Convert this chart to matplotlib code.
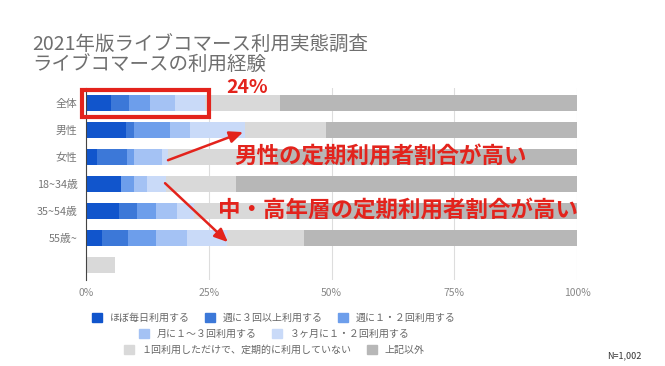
import matplotlib.pyplot as plt
from matplotlib.patches import Rectangle, Patch

plt.rcParams['font.family'] = ['Noto Sans CJK JP', 'DejaVu Sans']

# data (percent)
categories = ['全体', '男性', '女性', '18~34歳', '35~54歳', '55歳~', '']
series_names = ['ほぼ毎日利用する', '週に３回以上利用する', '週に１・２回利用する',
                '月に１〜３回利用する', '３ヶ月に１・２回利用する',
                '１回利用しただけで、定期的に利用していない', '上記以外']
daily = [5.1, 8.1, 2.3, 7.1, 6.8, 3.2, 0]
weekly3 = [3.7, 1.6, 6.0, 0.0, 3.6, 5.4, 0]
weekly12 = [4.3, 7.4, 1.4, 2.6, 3.8, 5.6, 0]
monthly = [5.0, 4.1, 5.7, 2.7, 4.3, 6.3, 0]
quarterly = [6.2, 11.2, 1.4, 3.9, 3.4, 8.2, 0]
once = [15.2, 16.5, 21.7, 14.2, 19.1, 15.7, 5.9]
other = [60.5, 51.1, 61.5, 69.5, 59.0, 55.6, 0]
xticks = [0, 25, 50, 75, 100]
xticklabels = ['0%', '25%', '50%', '75%', '100%']

colors = ['#1155cc', '#3c78d8', '#6d9eeb', '#a4c2f4', '#c9daf8', '#d9d9d9', '#b7b7b7']
red = '#e3231c'

fig = plt.figure(figsize=(6.65, 3.66), dpi=100)
ax = fig.add_axes([86 / 665, 1 - 280 / 366, 491 / 665, 192 / 366])

series = [daily, weekly3, weekly12, monthly, quarterly, once, other]
ypos = list(range(len(categories)))
left = [0] * len(categories)
for vals, c in zip(series, colors):
    ax.barh(ypos, vals, left=left, height=0.6, color=c, zorder=2)
    left = [l + v for l, v in zip(left, vals)]

ax.set_xlim(0, 100)
ax.set_ylim(6.55, -0.55)
ax.set_xticks(xticks)
ax.set_xticklabels(xticklabels, color='#888888', fontsize=7.5)
ax.set_yticks(ypos)
ax.set_yticklabels(categories, color='#777777', fontsize=7.8)
ax.tick_params(axis='both', length=0, pad=6)
ax.grid(axis='x', color='#dddddd', linewidth=0.8, zorder=0)
for s in ['top', 'right', 'bottom']:
    ax.spines[s].set_visible(False)
ax.spines['left'].set_color('#444444')
ax.spines['left'].set_linewidth(0.8)

# title
fig.text(32 / 665, 1 - 45 / 366, '2021年版ライブコマース利用実態調査', fontsize=14,
         color='#6f6f6f', va='center', ha='left')
fig.text(32 / 665, 1 - 64 / 366, 'ライブコマースの利用経験', fontsize=14,
         color='#6f6f6f', va='center', ha='left')

# highlight box around the regular users of 全体
ax.add_patch(Rectangle((-0.8, -0.48), 25.9, 1.0, fill=False, edgecolor=red,
                       linewidth=3, clip_on=False, zorder=5))
ax.text(32.8, -0.58, '24%', color=red, fontsize=14, fontweight='bold',
        ha='center', va='center', zorder=6)

# comments
ax.text(30.3, 2.0, '男性の定期利用者割合が高い', color=red, fontsize=16.2,
        fontweight='bold', ha='left', va='center', zorder=6)
ax.text(26.9, 4.0, '中・高年層の定期利用者割合が高い', color=red, fontsize=16.2,
        fontweight='bold', ha='left', va='center', zorder=6)
arrow = dict(arrowstyle='-|>,head_length=0.8,head_width=0.35', color=red, lw=1.8,
             shrinkA=0, shrinkB=0)
ax.annotate('', xy=(32.0, 1.08), xytext=(16.7, 2.12), arrowprops=arrow, zorder=6)
ax.annotate('', xy=(28.9, 5.15), xytext=(16.1, 2.97), arrowprops=arrow, zorder=6)

# legend, three centered rows
rows = [[0, 1, 2], [3, 4], [5, 6]]
row_y = [318, 334, 350]
for r, yy in zip(rows, row_y):
    handles = [Patch(color=colors[i]) for i in r]
    labels = [series_names[i] for i in r]
    fig.legend(handles, labels, loc='center', bbox_to_anchor=(274 / 665, 1 - yy / 366),
               ncol=len(r), frameon=False, fontsize=7.2, handlelength=1.0,
               handleheight=1.0, handletextpad=0.8, columnspacing=1.5,
               labelcolor='#666666', borderpad=0, borderaxespad=0)

fig.text(642 / 665, 1 - 356 / 366, 'N=1,002', fontsize=6.5, color='#333333',
         ha='right', va='center')

fig.savefig('out.png', dpi=100)
